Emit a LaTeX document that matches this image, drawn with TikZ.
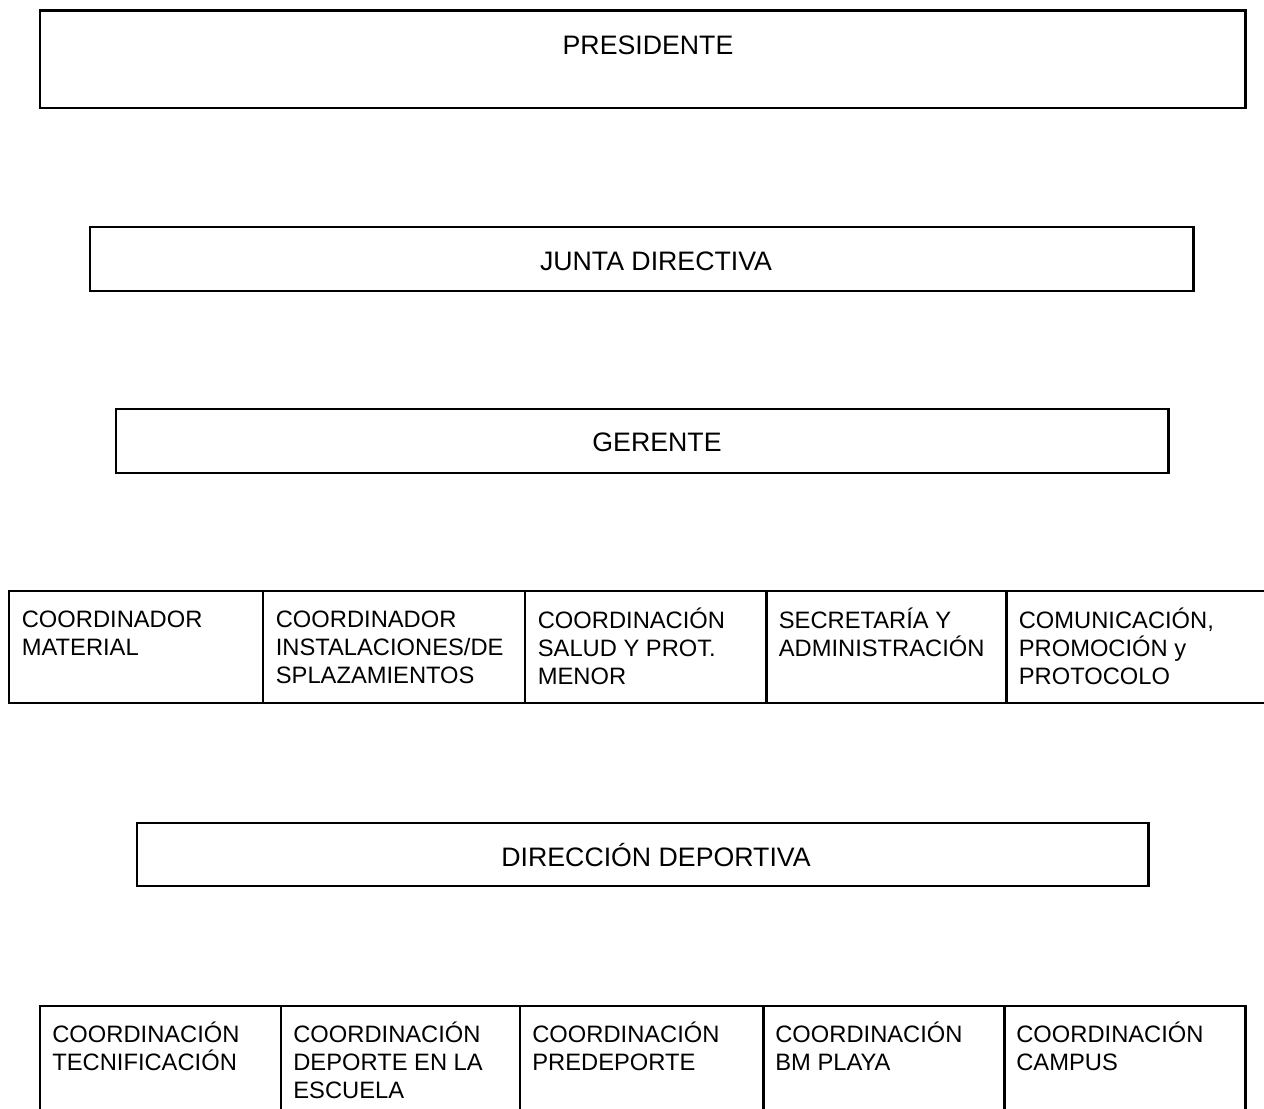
\documentclass[tikz,border=0pt]{standalone}
\usepackage{fontspec}
\setmainfont{Liberation Sans}
\usepackage{tikz}
\usetikzlibrary{positioning}
\newcommand{\cellfont}{\fontsize{13.5}{15.9}\selectfont\lineskiplimit -100pt\relax}

\begin{document}
\begin{tikzpicture}
    \tikzstyle{hbox} = [draw=black, line width=1.7pt, rectangle, inner sep=0pt]
    \tikzstyle{cell} = [draw=black, line width=1.7pt, rectangle, inner sep=0pt, minimum height=2.24cm]
    \tikzstyle{dcell} = [draw=black, line width=1.7pt, rectangle, inner sep=0pt, minimum height=2.68cm]
    \tikzstyle{htext} = [anchor=base, inner sep=0pt, font=\fontsize{15.2}{18}\selectfont]
    \tikzstyle{ctext} = [anchor=north west, inner sep=0pt, align=left, font=\cellfont]
    \clip (0,0) rectangle (25.28,-22.18);
    \fill[white] (0,0) rectangle (25.28,-22.18);

    % upper levels
    \node[hbox, minimum width=24.1cm, minimum height=1.94cm] (pres) at (12.85,-1.19) {};
    \node[hbox, minimum width=22.06cm, minimum height=1.28cm] (junta) at (12.83,-5.18) {};
    \node[hbox, minimum width=21.04cm, minimum height=1.28cm] (ger) at (12.84,-8.82) {};
    \node[hbox, minimum width=20.22cm, minimum height=1.26cm] (dir) at (12.85,-17.09) {};

    \node[htext] (presT) at (12.96,-1.09) {PRESIDENTE};
    \node[htext] (juntaT) at (13.12,-5.41) {JUNTA DIRECTIVA};
    \node[htext] (gerT) at (13.14,-9.03) {GERENTE};
    \node[htext] (dirT) at (13.12,-17.32) {DIRECCIÓN DEPORTIVA};

    % management row
    \node[cell, minimum width=5.08cm] (m1) at (2.72,-12.94) {};
    \node[cell, minimum width=5.24cm] (m2) at (7.88,-12.94) {};
    \node[cell, minimum width=4.82cm] (m3) at (12.91,-12.94) {};
    \node[cell, minimum width=4.80cm] (m4) at (17.72,-12.94) {};
    \node[cell, minimum width=5.88cm] (m5) at (23.06,-12.94) {};

    \node[ctext] (m1T) at ([xshift=0.28cm,yshift=-0.37cm]m1.north west) {\strut COORDINADOR\\MATERIAL};
    \node[ctext] (m2T) at ([xshift=0.28cm,yshift=-0.37cm]m2.north west) {\strut COORDINADOR\\INSTALACIONES/DE\\SPLAZAMIENTOS};
    \node[ctext] (m3T) at ([xshift=0.28cm,yshift=-0.37cm]m3.north west) {\strut COORDINACIÓN\\SALUD Y PROT.\\MENOR};
    \node[ctext] (m4T) at ([xshift=0.28cm,yshift=-0.37cm]m4.north west) {\strut SECRETARÍA Y\\ADMINISTRACIÓN};
    \node[ctext] (m5T) at ([xshift=0.28cm,yshift=-0.37cm]m5.north west) {\strut COMUNICACIÓN,\\PROMOCIÓN y\\PROTOCOLO};

    % sports row
    \node[dcell, minimum width=4.82cm] (d1) at (3.21,-21.46) {};
    \node[dcell, minimum width=4.78cm] (d2) at (8.01,-21.46) {};
    \node[dcell, minimum width=4.86cm] (d3) at (12.83,-21.46) {};
    \node[dcell, minimum width=4.82cm] (d4) at (17.67,-21.46) {};
    \node[dcell, minimum width=4.82cm] (d5) at (22.49,-21.46) {};

    \node[ctext] (d1T) at ([xshift=0.27cm,yshift=-0.35cm]d1.north west) {\strut COORDINACIÓN\\TECNIFICACIÓN};
    \node[ctext] (d2T) at ([xshift=0.27cm,yshift=-0.35cm]d2.north west) {\strut COORDINACIÓN\\DEPORTE EN LA\\ESCUELA};
    \node[ctext] (d3T) at ([xshift=0.27cm,yshift=-0.35cm]d3.north west) {\strut COORDINACIÓN\\PREDEPORTE};
    \node[ctext] (d4T) at ([xshift=0.27cm,yshift=-0.35cm]d4.north west) {\strut COORDINACIÓN\\BM PLAYA};
    \node[ctext] (d5T) at ([xshift=0.27cm,yshift=-0.35cm]d5.north west) {\strut COORDINACIÓN\\CAMPUS};

  \end{tikzpicture}
\end{document}
